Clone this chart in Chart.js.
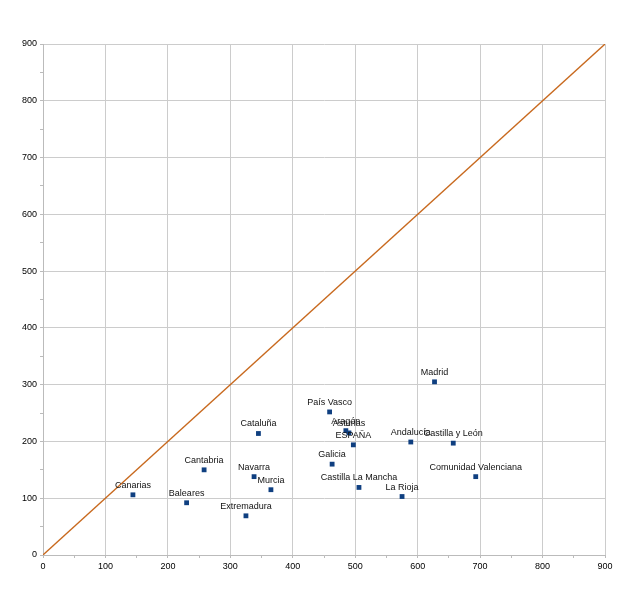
<!DOCTYPE html>
<html>
<head>
<meta charset="utf-8">
<script src="https://cdn.jsdelivr.net/npm/chart.js@4/dist/chart.umd.min.js"></script>
<style>
html,body{margin:0;padding:0;background:#fff;}
#wrap{width:640px;height:604px;position:relative;}
</style>
</head>
<body>
<div id="wrap"><canvas id="c" width="640" height="604"></canvas></div>
<script>
const regions = ["Canarias","Baleares","Cantabria","Cataluña","Navarra","Murcia","Extremadura","País Vasco","Aragón","Asturias","ESPAÑA","Galicia","Castilla La Mancha","La Rioja","Andalucía","Castilla y León","Madrid","Comunidad Valenciana"];
const xValues = [144,230,258,345,338,365,325,459,485,490,497,463,506,575,589,657,627,693];
const yValues = [106,92,150,214,138,115,69,252,219,215,194,160,119,103,199,197,305,138];
const diagonalX = [0,900];
const diagonalY = [0,900];
const axisTicks = [0,100,200,300,400,500,600,700,800,900];

const points = xValues.map((x,i)=>({x:x,y:yValues[i]}));
const diag = diagonalX.map((x,i)=>({x:x,y:diagonalY[i]}));

const labelPlugin = {
  id:'pointLabels',
  afterDatasetsDraw(chart){
    const meta = chart.getDatasetMeta(1);
    const ctx = chart.ctx;
    ctx.save();
    ctx.font = '9px "Liberation Sans", Arial, sans-serif';
    ctx.fillStyle = '#111111';
    ctx.textAlign = 'center';
    ctx.textBaseline = 'bottom';
    meta.data.forEach((el,i)=>{
      ctx.fillText(regions[i], el.x, el.y - 5);
    });
    ctx.restore();
  }
};

const gridColor = (c)=> (c.tick && c.tick.value % 100 === 0) ? '#cccccc' : 'rgba(0,0,0,0)';

new Chart(document.getElementById('c'), {
  type:'scatter',
  data:{
    datasets:[
      {type:'line', data:diag, borderColor:'#c8691e', borderWidth:1.3, pointRadius:0, fill:false, order:2},
      {data:points, backgroundColor:'#0f3f80', borderColor:'#0f3f80', pointStyle:'rect', pointRadius:3.4, borderWidth:0, order:1}
    ]
  },
  options:{
    responsive:false,
    animation:false,
    events:[],
    layout:{padding:{left:0,top:44,right:35,bottom:28}},
    plugins:{legend:{display:false},tooltip:{enabled:false}},
    scales:{
      x:{
        type:'linear', min:0, max:900,
        afterFit(s){ s.height = 21; },
        afterBuildTicks(s){ const t=[]; for(let v=0; v<=900; v+=50) t.push({value:v}); s.ticks=t; },
        grid:{color:gridColor, tickColor:'#bbbbbb', tickLength:3, lineWidth:1},
        border:{color:'#bbbbbb'},
        ticks:{autoSkip:false, maxRotation:0, padding:3, color:'#000', font:{size:9, family:'"Liberation Sans", Arial, sans-serif'},
          callback:(v)=> axisTicks.includes(v) ? String(v) : ''}
      },
      y:{
        type:'linear', min:0, max:900,
        afterFit(s){ s.width = 43; },
        afterBuildTicks(s){ const t=[]; for(let v=0; v<=900; v+=50) t.push({value:v}); s.ticks=t; },
        grid:{color:gridColor, tickColor:'#bbbbbb', tickLength:3, lineWidth:1},
        border:{color:'#bbbbbb'},
        ticks:{autoSkip:false, padding:3, color:'#000', font:{size:9, family:'"Liberation Sans", Arial, sans-serif'},
          callback:(v)=> axisTicks.includes(v) ? String(v) : ''}
      }
    }
  },
  plugins:[labelPlugin]
});
</script>
</body>
</html>
